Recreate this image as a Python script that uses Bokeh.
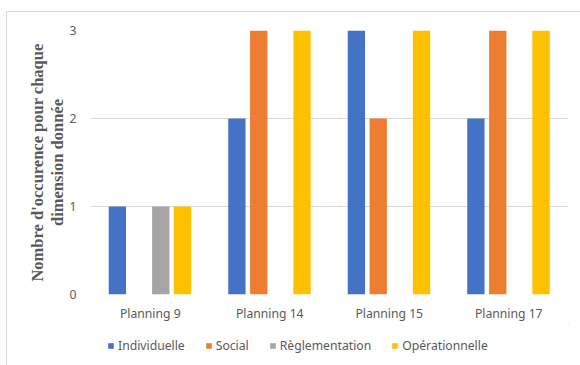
from bokeh.plotting import figure
from bokeh.layouts import column
from bokeh.models import (ColumnDataSource, FactorRange, Range1d, FixedTicker,
                          Legend, LegendItem)
from bokeh.transform import dodge
from bokeh.embed import file_html
from bokeh.resources import INLINE

# Data
plannings = ["Planning 9", "Planning 14", "Planning 15", "Planning 17"]
individuelle = [1, 2, 3, 2]
social = [0, 3, 2, 3]
reglementation = [1, 0, 0, 0]
operationnelle = [1, 3, 3, 3]
series_names = ["Individuelle", "Social", "Règlementation", "Opérationnelle"]
series_keys = ["individuelle", "social", "reglementation", "operationnelle"]
colors = ["#4472C4", "#ED7D31", "#A5A5A5", "#FFC000"]
y_ticks = [0, 1, 2, 3]

source = ColumnDataSource(dict(
    planning=plannings,
    individuelle=individuelle,
    social=social,
    reglementation=reglementation,
    operationnelle=operationnelle,
))

TEXT = "#595959"
GRID = "#D9D9D9"
FONT = "Noto Sans"
FSIZE = "12.2px"

# Main bar chart
p = figure(
    width=573, height=312,
    x_range=FactorRange(factors=plannings, range_padding=0),
    y_range=Range1d(0, 3),
    output_backend="svg", toolbar_location=None,
    min_border_left=83, min_border_right=12,
    min_border_top=18, min_border_bottom=30,
    background_fill_color="white", border_fill_color="white",
    outline_line_color=None,
)

offsets = [-0.275, -0.092, 0.088, 0.27]
for key, off, col in zip(series_keys, offsets, colors):
    p.vbar(x=dodge("planning", off, range=p.x_range), top=key, width=0.145,
           source=source, fill_color=col, line_color=None)

p.yaxis.ticker = FixedTicker(ticks=y_ticks)
p.yaxis.axis_line_color = None
p.yaxis.major_tick_line_color = None
p.yaxis.minor_tick_line_color = None
p.yaxis.major_label_standoff = 8
p.yaxis.major_label_text_color = TEXT
p.yaxis.major_label_text_font = FONT
p.yaxis.major_label_text_font_size = FSIZE
p.yaxis.axis_label = "Nombre d'occurence pour chaque\ndimension donnée"
p.yaxis.axis_label_text_font = "Liberation Serif"
p.yaxis.axis_label_text_font_style = "bold"
p.yaxis.axis_label_text_font_size = "16.5px"
p.yaxis.axis_label_text_line_height = 1.05
p.yaxis.axis_label_text_color = TEXT
p.yaxis.axis_label_standoff = 0

p.xaxis.axis_line_color = None
p.xaxis.major_tick_line_color = None
p.xaxis.minor_tick_line_color = None
p.xaxis.major_label_standoff = 4
p.xaxis.major_label_text_color = TEXT
p.xaxis.major_label_text_font = FONT
p.xaxis.major_label_text_font_size = FSIZE

p.xgrid.grid_line_color = None
p.ygrid.grid_line_color = GRID
p.ygrid.grid_line_width = 1

# Legend strip underneath the chart; its swatch renderers sit outside the
# visible range so only the legend itself shows.
leg = figure(
    width=573, height=41,
    x_range=Range1d(0, 1), y_range=Range1d(0, 1),
    output_backend="svg", toolbar_location=None,
    min_border=0, outline_line_color=None,
    background_fill_color="white", border_fill_color="white",
)
leg.axis.visible = False
leg.grid.grid_line_color = None

items = []
for name, col in zip(series_names, colors):
    r = leg.vbar(x=[10], top=[10], bottom=[9], width=0.1,
                 fill_color=col, line_color=None)
    items.append(LegendItem(label=name, renderers=[r]))

legend = Legend(
    items=items,
    orientation="horizontal",
    location=(17, 11),
    padding=0, margin=0, spacing=20,
    glyph_width=7, glyph_height=7, label_standoff=4,
    label_text_font=FONT, label_text_font_size=FSIZE,
    label_text_color=TEXT, label_height=14,
    border_line_color=None, background_fill_alpha=0,
)
leg.add_layout(legend, "center")

layout = column(p, leg, spacing=0,
                styles={"margin-top": "11px", "margin-left": "6px",
                        "border-top": "1px solid #D9D9D9",
                        "border-left": "1px solid #D9D9D9"})

open("out.html", "w").write(file_html(layout, INLINE))
